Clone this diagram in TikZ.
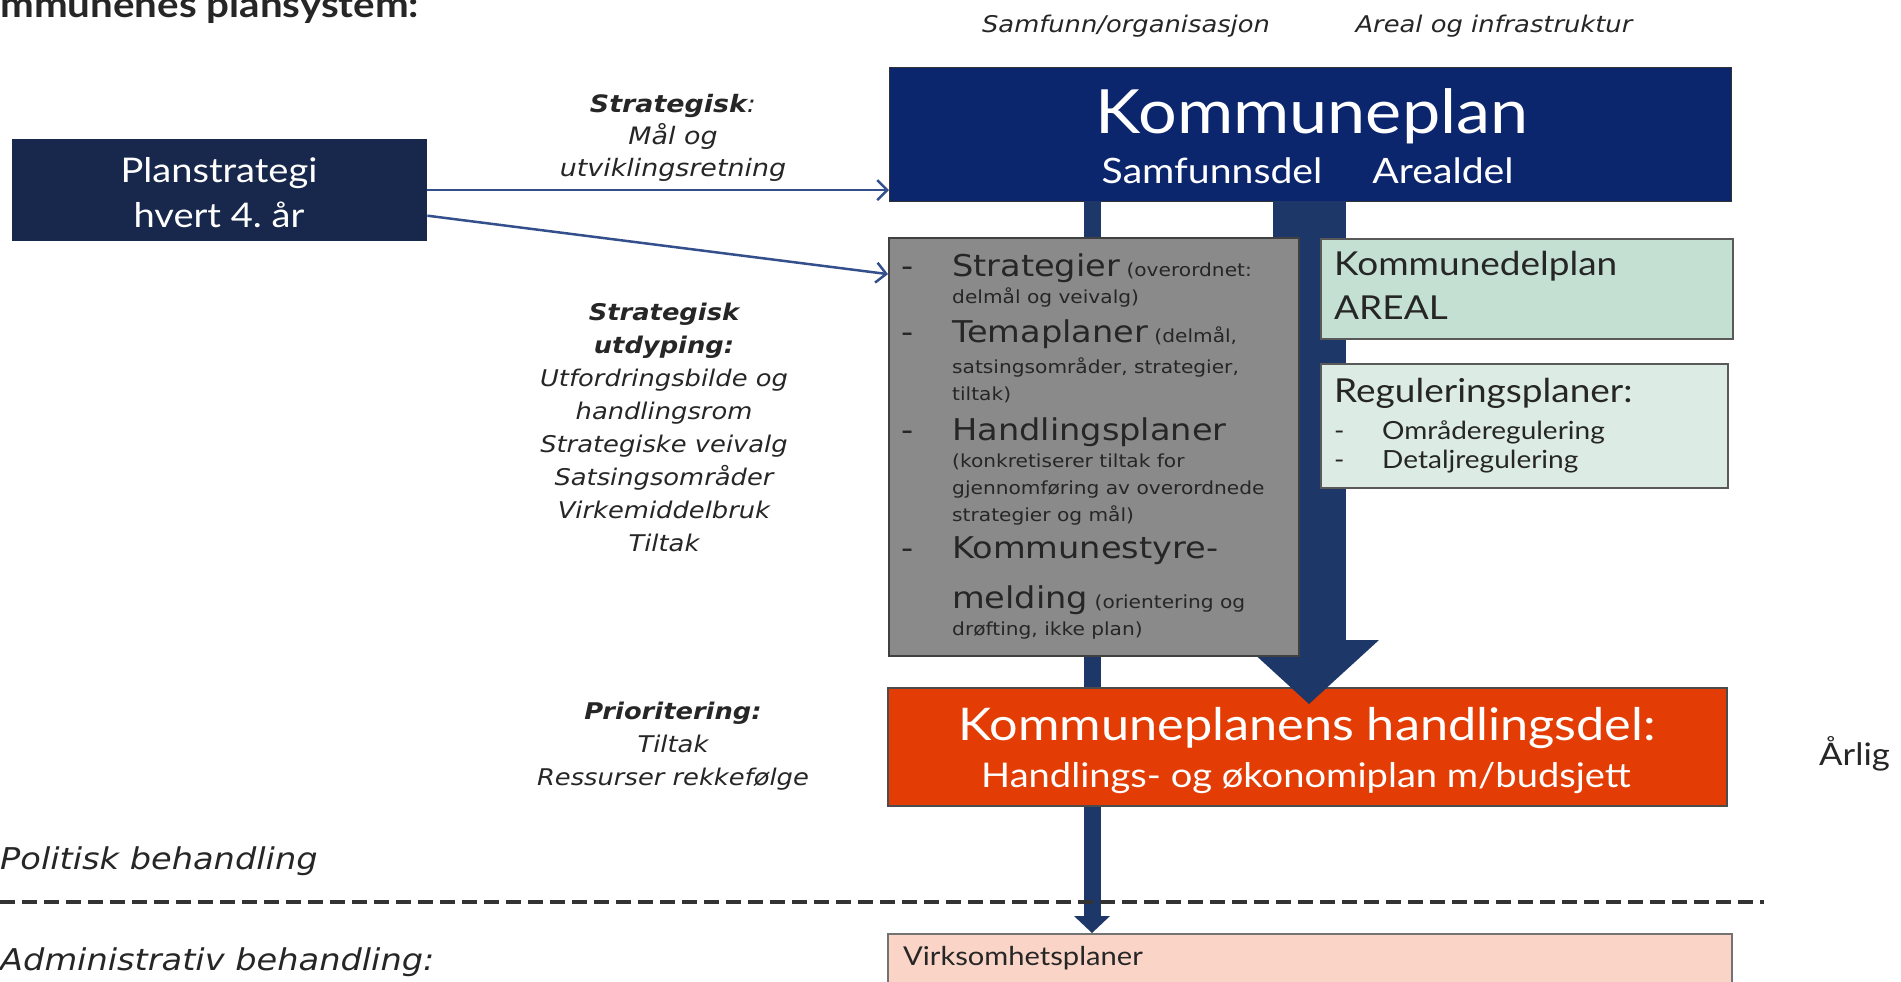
\documentclass[tikz,border=0pt]{standalone}
\usepackage{fontspec}
\setmainfont{Lato}[FakeStretch=1.12]
\newfontfamily\dejavu{DejaVu Sans}[FakeStretch=1.12]
\usetikzlibrary{arrows.meta}
\usetikzlibrary{positioning}

\definecolor{kplanblue}{RGB}{12,38,110}
\definecolor{stratblue}{RGB}{24,40,76}
\definecolor{barblue}{RGB}{30,55,105}
\definecolor{linkblue}{RGB}{52,80,140}
\definecolor{graybox}{RGB}{138,138,138}
\definecolor{arealgreen}{RGB}{196,224,210}
\definecolor{regulgreen}{RGB}{220,236,229}
\definecolor{handlred}{RGB}{227,60,4}
\definecolor{virksrose}{RGB}{250,212,198}

\newcommand{\fsize}[2]{\fontsize{#1}{#2}\selectfont}

\tikzset{
  plate/.style={rectangle, anchor=north west, inner sep=0pt},
  lbl/.style={inner sep=0pt, anchor=base, text=black!85},
  grayitem/.style={lbl, anchor=base west, align=left, font=\dejavu\fsize{18}{27}},
  linkarrow/.style={draw=linkblue, line width=2.5pt, -{Straight Barb[length=10pt,width=20pt]}},
  thinbar/.style={draw=barblue, line width=17pt, -{Triangle[width=36pt,length=17pt,line width=0pt]}},
  thickbar/.style={draw=barblue, fill=barblue, line width=73pt, -{Triangle[width=140pt,length=64pt,line width=0pt]}},
  divider/.style={draw=black!80, line width=3.5pt, dash pattern=on 15pt off 7pt}
}

\begin{document}
\begin{tikzpicture}[x=1pt,y=-1pt]
  \useasboundingbox (0,0) rectangle (1901,982);

  % headings
  \node[lbl, anchor=base west, font=\bfseries\fsize{36}{40}] (title) at (0,18) {\llap{Ko}mmunenes plansystem:};
  \node[lbl, font=\dejavu\itshape\fsize{23}{26}] (samfhead) at (1126,33) {Samfunn/organisasjon};
  \node[lbl, font=\dejavu\itshape\fsize{23}{26}] (arealhead) at (1494,33) {Areal og infrastruktur};

  % boxes
  \node[plate, fill=kplanblue, draw=black!80, minimum width=842, minimum height=134] (kplan) at (889,67) {};
  \node[plate, fill=stratblue, minimum width=415, minimum height=102] (pstrat) at (12,139) {};
  \node[plate, fill=virksrose, draw=black!55, line width=1.5pt, minimum width=844, minimum height=70] (virks) at (887,933) {};

  \coordinate (thinx) at (1092,0);
  \coordinate (thickx) at (1309,0);
  \coordinate (thicktip) at (1309,704);
  \draw[thinbar] (kplan.south -| thinx) -- (virks.north -| thinx);

  \node[plate, fill=handlred, draw=black!70, line width=1.5pt, minimum width=839, minimum height=118] (handl) at (887,687) {};
  \draw[thickbar] (kplan.south -| thickx) -- (thicktip);

  \node[plate, fill=graybox, draw=black!75, line width=2pt, minimum width=410, minimum height=418] (gray) at (888,237) {};
  \node[plate, fill=arealgreen, draw=black!65, line width=1.5pt, minimum width=412, minimum height=100] (areal) at (1320,238) {};
  \node[plate, fill=regulgreen, draw=black!65, line width=1.5pt, minimum width=407, minimum height=124] (regul) at (1320,363) {};

  % arrows from planstrategi
  \draw[linkarrow] (pstrat.east) -- (kplan.west |- pstrat.east);
  \draw[linkarrow] (pstrat.-7.7) -- (gray.140);

  % box texts (base = last line)
  \node[lbl, text=white, font=\fsize{61}{64}] (kplantitle) at (1312,133) {Kommuneplan};
  \node[lbl, text=white, font=\fsize{35}{38}] (samfdel) at (1212,183) {Samfunnsdel};
  \node[lbl, text=white, font=\fsize{35}{38}] (arealdel) at (1443,183) {Arealdel};
  \node[lbl, text=white, align=center, font=\fsize{34}{45}] (pstrattxt) at (219,227) {Planstrategi\\hvert 4.~år};

  \node[grayitem] (strat) at (952,303) {{\fsize{30}{27}\llap{-\hspace{39pt}}Strategier} (overordnet:\\delmål og veivalg)};
  \node[grayitem] (tema) at (952,400) {{\fsize{30}{27}\llap{-\hspace{39pt}}Temaplaner} (delmål,\\[4pt]satsingsområder, strategier,\\tiltak)};
  \node[grayitem] (handlpl) at (952,521) {{\fsize{30}{27}\llap{-\hspace{39pt}}Handlingsplaner}\\(konkretiserer tiltak for\\gjennomføring av overordnede\\strategier og mål)};
  \node[grayitem] (melding) at (952,635) {{\fsize{30}{27}\llap{-\hspace{39pt}}Kommunestyre-}\\[19pt]{\fsize{30}{27}melding} (orientering og\\drøfting, ikke plan)};

  \node[lbl, anchor=base west, align=left, font=\fsize{33}{44}] (arealtxt) at (1334,319) {Kommunedelplan\\AREAL};
  \node[lbl, anchor=base west, align=left, font=\fsize{33}{37}] (regultxt) at (1334,468) {Reguleringsplaner:\\{\fsize{25}{28}\makebox[48pt][l]{-}Områderegulering}\\[-8pt]{\fsize{25}{28}\makebox[48pt][l]{-}Detaljregulering}};

  \node[lbl, text=white, font=\fsize{45}{48}] (handltitle) at (1307,740) {Kommuneplanens handlingsdel:};
  \node[lbl, text=white, font=\fsize{34}{37}] (handlsub) at (1306,787) {Handlings- og økonomiplan m/budsjett};
  \node[lbl, anchor=base west, font=\fsize{26}{28}] (virkstxt) at (903,965) {Virksomhetsplaner};

  % side labels
  \node[lbl, align=center, font=\dejavu\itshape\fsize{24}{32}] (maaltxt) at (673,176) {\textbf{Strategisk}:\\Mål og\\utviklingsretning};
  \node[lbl, align=center, font=\dejavu\itshape\fsize{23}{33}] (utdyp) at (664,551) {\textbf{Strategisk}\\\textbf{utdyping:}\\Utfordringsbilde og\\handlingsrom\\Strategiske veivalg\\Satsingsområder\\Virkemiddelbruk\\Tiltak};
  \node[lbl, align=center, font=\dejavu\itshape\fsize{23}{33}] (prio) at (673,785) {\textbf{Prioritering:}\\Tiltak\\Ressurser rekkefølge};
  \node[lbl, anchor=base west, font=\fsize{31}{34}] (aarlig) at (1819,765) {Årlig};

  % political / administrative split
  \node[lbl, anchor=base west, font=\dejavu\itshape\fsize{30}{34}] (polit) at (0,869) {Politisk behandling};
  \coordinate (dashstart) at (0,902);
  \coordinate (dashend) at (1764,902);
  \draw[divider] (dashstart) -- (dashend);
  \node[lbl, anchor=base west, font=\dejavu\itshape\fsize{30}{34}] (admin) at (0,970) {Administrativ behandling:};
\end{tikzpicture}
\end{document}
